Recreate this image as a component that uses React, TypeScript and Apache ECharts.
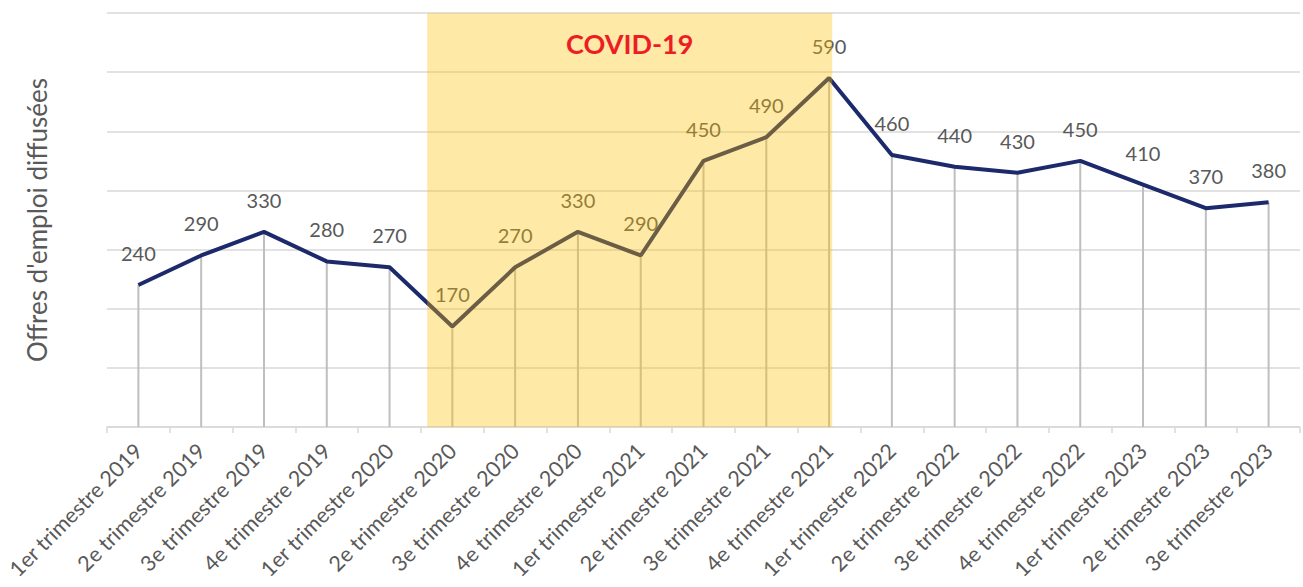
import React, { useEffect, useRef } from "react";
import * as echarts from "echarts";

const categories = [
  "1er trimestre 2019",
  "2e trimestre 2019",
  "3e trimestre 2019",
  "4e trimestre 2019",
  "1er trimestre 2020",
  "2e trimestre 2020",
  "3e trimestre 2020",
  "4e trimestre 2020",
  "1er trimestre 2021",
  "2e trimestre 2021",
  "3e trimestre 2021",
  "4e trimestre 2021",
  "1er trimestre 2022",
  "2e trimestre 2022",
  "3e trimestre 2022",
  "4e trimestre 2022",
  "1er trimestre 2023",
  "2e trimestre 2023",
  "3e trimestre 2023",
];

const offres = [240, 290, 330, 280, 270, 170, 270, 330, 290, 450, 490, 590, 460, 440, 430, 450, 410, 370, 380];

// COVID-19 period, expressed in category-index units (0 = first quarter shown)
const covidStart = 4.6;
const covidEnd = 11.05;
const covidLabel = "COVID-19";

const yMin = 0;
const yMax = 700;
const yInterval = 100;
const yName = "Offres d'emploi diffusées";

export default function App() {
  const ref = useRef<HTMLDivElement>(null);

  useEffect(() => {
    document.body.style.margin = "0";
    if (!ref.current) return;
    const chart = echarts.init(ref.current, null, { renderer: "svg" });
    const font = "Lato, 'Open Sans', sans-serif";

    chart.setOption({
      animation: false,
      textStyle: { fontFamily: font },
      grid: { left: 107, right: 3, top: 13, bottom: 160, containLabel: false },
      xAxis: [
        {
          type: "category",
          data: categories,
          boundaryGap: true,
          axisLine: { show: true, lineStyle: { color: "#d9d9d9", width: 1.5 } },
          axisTick: { show: true, interval: 0, length: 6, lineStyle: { color: "#d9d9d9", width: 1.5 } },
          axisLabel: {
            interval: 0,
            rotate: 45,
            margin: 20,
            fontSize: 21.5,
            color: "#595959",
            fontFamily: font,
          },
          splitLine: { show: false },
        },
        {
          type: "value",
          min: -0.5,
          max: categories.length - 0.5,
          show: false,
        },
      ],
      yAxis: {
        type: "value",
        min: yMin,
        max: yMax,
        interval: yInterval,
        name: yName,
        nameLocation: "middle",
        nameGap: 57,
        nameRotate: 90,
        nameTextStyle: { fontSize: 26, color: "#595959", fontFamily: font },
        axisLine: { show: false },
        axisTick: { show: false },
        axisLabel: { show: false },
        splitLine: { show: true, lineStyle: { color: "#d9d9d9", width: 1.5 } },
      },
      series: [
        {
          type: "bar",
          data: offres,
          barWidth: 2,
          itemStyle: { color: "#bfbfbf" },
          label: {
            show: true,
            position: "top",
            distance: 22,
            fontSize: 20,
            color: "#595959",
            fontFamily: font,
          },
          z: 1,
          silent: true,
        },
        {
          type: "line",
          data: offres,
          symbol: "none",
          lineStyle: { color: "#1c2a6b", width: 4 },
          z: 3,
        },
        {
          type: "custom",
          xAxisIndex: 1,
          yAxisIndex: 0,
          data: [[covidStart, covidEnd]],
          z: 10,
          silent: true,
          renderItem: (params: any, api: any) => {
            const s = api.value(0);
            const e = api.value(1);
            const tl = api.coord([s, yMax]);
            const br = api.coord([e, yMin]);
            return {
              type: "group",
              children: [
                {
                  type: "rect",
                  shape: { x: tl[0], y: tl[1], width: br[0] - tl[0], height: br[1] - tl[1] },
                  style: { fill: "rgba(255,192,0,0.35)" },
                },
                {
                  type: "text",
                  style: {
                    text: covidLabel,
                    x: (tl[0] + br[0]) / 2,
                    y: tl[1] + 30,
                    align: "center",
                    verticalAlign: "middle",
                    fill: "#ee1c25",
                    font: "bold 27px Lato, 'Open Sans', sans-serif",
                  },
                },
              ],
            };
          },
        },
      ],
    });

    return () => chart.dispose();
  }, []);

  return <div ref={ref} style={{ width: 1303, height: 587 }} />;
}
